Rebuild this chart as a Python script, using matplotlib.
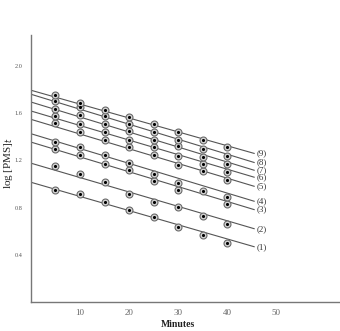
import numpy as np
import matplotlib
matplotlib.use("Agg")
import matplotlib.pyplot as plt

plt.rcParams['font.family'] = ['Liberation Serif', 'DejaVu Serif']

minutes = [5, 10, 15, 20, 25, 30, 35, 40]

# log [PMS]_t readings, one list per curve (None = no point)
pms = {
    '(1)': [0.953, 0.917, 0.845, 0.780, 0.717, 0.638, 0.568, 0.502],
    '(2)': [1.151, 1.081, 1.015, 0.917, 0.845, 0.803, 0.726, 0.664],
    '(3)': [1.294, 1.243, 1.172, 1.117, 1.024, 0.953, None, 0.831],
    '(4)': [1.356, 1.313, 1.243, 1.177, 1.089, 1.013, 0.940, 0.888],
    '(5)': [1.517, 1.441, 1.376, 1.311, 1.249, 1.163, 1.109, 1.032],
    '(6)': [1.577, 1.512, 1.441, 1.376, 1.313, 1.234, 1.166, 1.104],
    '(7)': [1.640, 1.583, 1.512, 1.451, 1.376, 1.322, 1.228, 1.172],
    '(8)': [1.705, 1.654, 1.577, 1.506, 1.441, 1.376, 1.300, 1.238],
    '(9)': [1.753, 1.688, 1.631, 1.569, 1.506, 1.441, 1.370, 1.313],
}

# fitted straight lines: value at 0 min and at the end (45.5 min)
line_x = [0, 45.5]
line_start = [1.015, 1.177, 1.356, 1.427, 1.549, 1.620, 1.696, 1.762, 1.796]
line_end = [0.468, 0.621, 0.783, 0.854, 0.981, 1.058, 1.117, 1.183, 1.260]

fig = plt.figure(figsize=(3.4, 3.31), dpi=100)
ax = fig.add_axes([0.091, 0.088, 0.909, 0.806])

for i, (lab, vals) in enumerate(pms.items()):
    ax.plot(line_x, [line_start[i], line_end[i]], color='#555555', lw=0.8, zorder=1)
    xs = [m for m, v in zip(minutes, vals) if v is not None]
    ys = [v for v in vals if v is not None]
    ax.plot(xs, ys, 'o', ms=5, mfc='#d4d4d4', mec='#6a6a6a', mew=0.8, zorder=2)
    ax.plot(xs, ys, '.', ms=2.5, color='black', zorder=3)
    ax.text(line_x[1] + 0.5, line_end[i], lab, fontsize=6.5, color='#333333',
            va='center', ha='left')

ax.set_xlim(0, 63)
ax.set_ylim(0, 2.264)
ax.set_xticks([10, 20, 30, 40, 50])
ax.set_yticks([0.4, 0.8, 1.2, 1.6, 2.0])
ax.set_yticklabels(['0.4', '0.8', '1.2', '1.6', '2.0'])
ax.tick_params(axis='y', length=0, pad=6, labelsize=4.5, labelcolor='#555555')
ax.tick_params(axis='x', length=0, pad=5, labelsize=6.5, labelcolor='#666666')

for s in ['top', 'right']:
    ax.spines[s].set_visible(False)
for s in ['left', 'bottom']:
    ax.spines[s].set_color('#777777')
    ax.spines[s].set_linewidth(1.0)

ax.set_xlabel('Minutes', fontsize=7, fontweight='bold', color='#222222')
ax.xaxis.set_label_coords(0.475, -0.068)
ax.set_ylabel('log [PMS]$_t$', fontsize=8, color='#222222')
ax.yaxis.set_label_coords(-0.052, 0.52)

fig.savefig('out.png', dpi=100)
